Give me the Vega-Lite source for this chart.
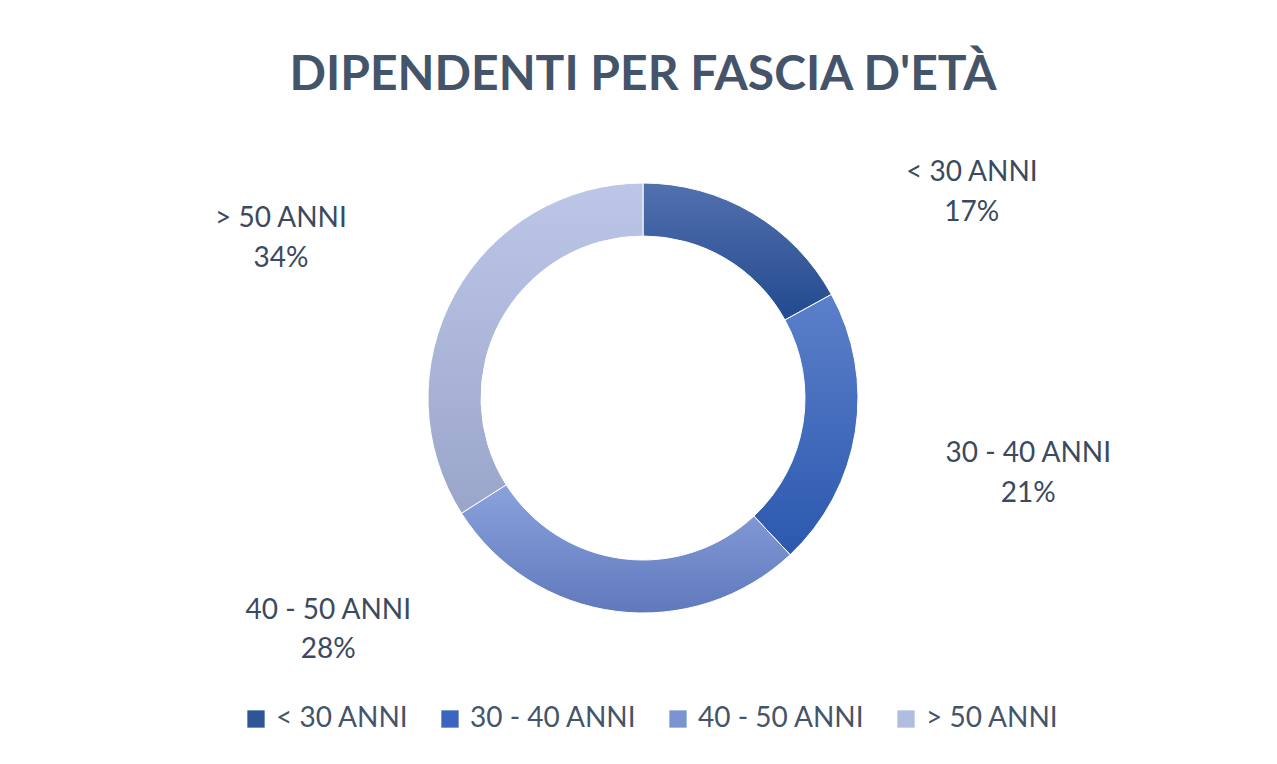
{
  "$schema": "https://vega.github.io/schema/vega-lite/v6.json",
  "width": 1270,
  "height": 782,
  "autosize": {"type": "none"},
  "padding": {"left": 8, "top": 7, "right": 0, "bottom": 0},
  "background": "white",
  "config": {
    "view": {"stroke": "#E1E5EC", "strokeWidth": 2.5},
    "font": "Lato"
  },
  "title": {
    "text": "DIPENDENTI PER FASCIA D'ETÀ",
    "font": "Lato",
    "fontSize": 48,
    "fontWeight": "bold",
    "color": "#44546A",
    "anchor": "middle",
    "frame": "group",
    "baseline": "alphabetic",
    "offset": -131
  },
  "data": {
    "values": [
      {"cat": "< 30 ANNI", "value": 17},
      {"cat": "30 - 40 ANNI", "value": 21},
      {"cat": "40 - 50 ANNI", "value": 28},
      {"cat": "> 50 ANNI", "value": 34}
    ]
  },
  "transform": [
    {"stack": "value", "groupby": [], "sort": [{"field": "value", "order": "ascending"}], "as": ["v0", "v1"]},
    {"calculate": "(datum.v0 + datum.v1) / 2", "as": "mid"},
    {"calculate": "datum.cat + '\\n' + datum.value + '%'", "as": "lbl"}
  ],
  "layer": [
    {
      "mark": {"type": "arc", "innerRadius": 162, "outerRadius": 215, "stroke": "white", "strokeWidth": 1},
      "encoding": {
        "theta": {"field": "v0", "type": "quantitative", "scale": {"domain": [0, 100]}},
        "theta2": {"field": "v1"},
        "color": {
          "condition": [
            {"test": "datum.cat === '< 30 ANNI'", "value": {"gradient": "linear", "x1": 0, "y1": 0, "x2": 0, "y2": 1, "stops": [{"offset": 0, "color": "#5270AE"}, {"offset": 1, "color": "#224A8F"}]}},
            {"test": "datum.cat === '30 - 40 ANNI'", "value": {"gradient": "linear", "x1": 0, "y1": 0, "x2": 0, "y2": 1, "stops": [{"offset": 0, "color": "#5C80CA"}, {"offset": 1, "color": "#2B58AE"}]}},
            {"test": "datum.cat === '40 - 50 ANNI'", "value": {"gradient": "linear", "x1": 0, "y1": 0, "x2": 0, "y2": 1, "stops": [{"offset": 0, "color": "#8AA2DC"}, {"offset": 1, "color": "#6079BD"}]}},
            {"test": "datum.cat === '> 50 ANNI'", "value": {"gradient": "linear", "x1": 0, "y1": 0, "x2": 0, "y2": 1, "stops": [{"offset": 0, "color": "#BCC7E8"}, {"offset": 1, "color": "#9AA5CA"}]}}
          ],
          "field": "cat",
          "type": "nominal",
          "sort": ["< 30 ANNI", "30 - 40 ANNI", "40 - 50 ANNI", "> 50 ANNI"],
          "scale": {
            "domain": ["< 30 ANNI", "30 - 40 ANNI", "40 - 50 ANNI", "> 50 ANNI"],
            "range": ["#2F5597", "#3A66BF", "#7B93D0", "#B0BDE0"]
          },
          "legend": {
            "title": null,
            "orient": "none",
            "legendX": 234,
            "legendY": 698,
            "direction": "horizontal",
            "symbolType": "square",
            "symbolSize": 300,
            "symbolStrokeWidth": 0,
            "labelFont": "Lato",
            "labelFontSize": 28,
            "labelColor": "#44546A",
            "labelOffset": 6,
            "columnPadding": 27,
            "labelLimit": 300
          }
        }
      }
    },
    {
      "transform": [{"filter": "datum.cat === '< 30 ANNI'"}],
      "mark": {"type": "text", "radius": 389, "thetaOffset": 0.473, "dy": -17, "fontSize": 28, "lineHeight": 40, "lineBreak": "\n", "align": "center", "baseline": "middle", "color": "#3B4A5E", "font": "Lato"},
      "encoding": {"theta": {"field": "mid", "type": "quantitative"}, "text": {"field": "lbl"}}
    },
    {
      "transform": [{"filter": "datum.cat === '30 - 40 ANNI'"}],
      "mark": {"type": "text", "radius": 392, "thetaOffset": 0.028, "dy": -16, "fontSize": 28, "lineHeight": 40, "lineBreak": "\n", "align": "center", "baseline": "middle", "color": "#3B4A5E", "font": "Lato"},
      "encoding": {"theta": {"field": "mid", "type": "quantitative"}, "text": {"field": "lbl"}}
    },
    {
      "transform": [{"filter": "datum.cat === '40 - 50 ANNI'"}],
      "mark": {"type": "text", "radius": 389, "thetaOffset": 0.817, "dy": -16, "fontSize": 28, "lineHeight": 39, "lineBreak": "\n", "align": "center", "baseline": "middle", "color": "#3B4A5E", "font": "Lato"},
      "encoding": {"theta": {"field": "mid", "type": "quantitative"}, "text": {"field": "lbl"}}
    },
    {
      "transform": [{"filter": "datum.cat === '> 50 ANNI'"}],
      "mark": {"type": "text", "radius": 397, "thetaOffset": -0.08, "dy": -16, "fontSize": 28, "lineHeight": 40, "lineBreak": "\n", "align": "center", "baseline": "middle", "color": "#3B4A5E", "font": "Lato"},
      "encoding": {"theta": {"field": "mid", "type": "quantitative"}, "text": {"field": "lbl"}}
    }
  ]
}
